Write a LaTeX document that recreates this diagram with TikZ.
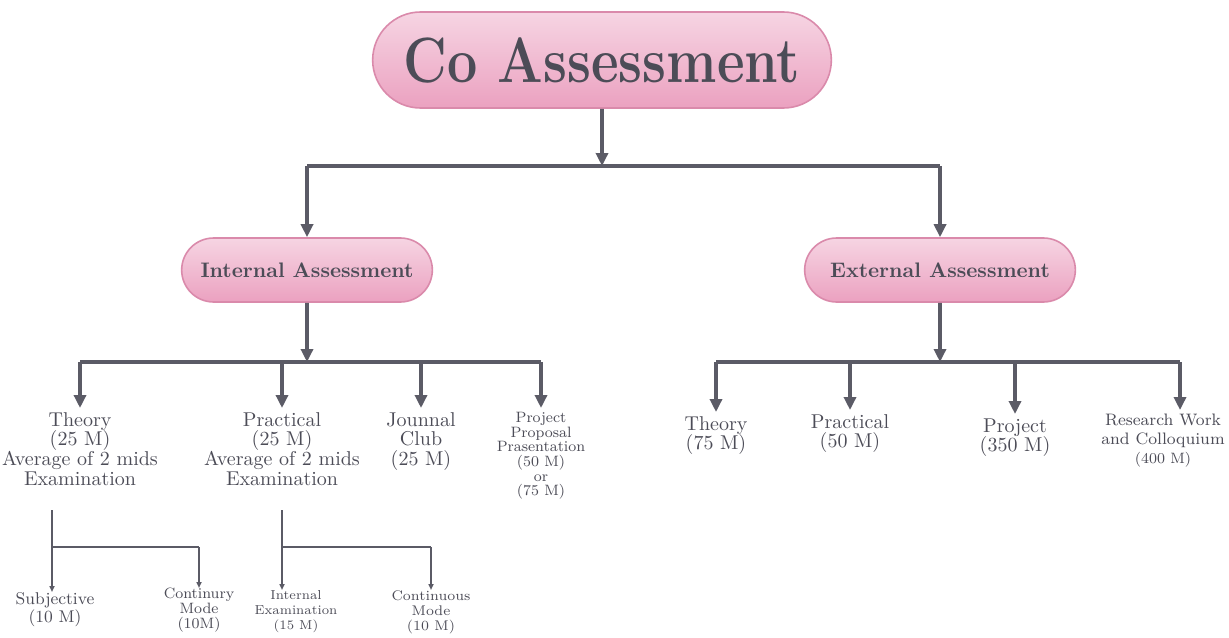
\documentclass[tikz,border=0pt]{standalone}
\usetikzlibrary{shapes.misc,arrows.meta}

\definecolor{pillpink}{HTML}{EBA1C0}
\definecolor{pilledge}{HTML}{DA8AAB}
\definecolor{inkgrey}{HTML}{4C4C57}
\definecolor{linegrey}{HTML}{5B5B66}

\begin{document}
\begin{tikzpicture}[x=0.5pt,y=-0.5pt,
	pill/.style={rounded rectangle, draw=pilledge, line width=0.8pt,
		top color=pillpink!45!white, middle color=pillpink!75!white, bottom color=pillpink,
		text=inkgrey},
	lbl/.style={align=center, text=inkgrey, inner sep=0pt},
	link/.style={draw=linegrey, line width=1.8pt},
	down/.style={link, -{Triangle[length=6.5pt,width=6pt]}},
	twig/.style={draw=linegrey, line width=1pt},
	twigdown/.style={twig, -{Triangle[length=3pt,width=2.5pt]}}]
	
	\useasboundingbox (0,0) rectangle (1229,637);
	
	\def\body{\fontsize{10}{9.8}\selectfont}
	\def\small{\fontsize{7.5}{7.3}\selectfont}
	
	% top
	\node[pill, minimum width=236pt, minimum height=48pt,
		font=\bfseries\fontsize{32}{32}\selectfont] (co) at (602,60) {\scalebox{0.84}[1]{Co Assessment}};
	\node[pill, minimum width=132pt, minimum height=32pt,
		font=\bfseries\fontsize{10.5}{11}\selectfont] (ia) at (307,270) {Internal Assessment};
	\node[pill, minimum width=142pt, minimum height=32pt,
		font=\bfseries\fontsize{10.5}{11}\selectfont] (ea) at (940,270) {External Assessment};
	
	\coordinate (j0) at (602,166);
	\draw[down] (co) -- (j0);
	\draw[link] (ia |- j0) -- (ea |- j0);
	\draw[down] (ia |- j0) -- (ia);
	\draw[down] (ea |- j0) -- (ea);
	
	% internal
	\node[lbl, anchor=north, font=\body] (it) at (80,412) {Theory\\(25 M)\\Average of 2 mids\\Examination};
	\node[lbl, anchor=north, font=\body] (ip) at (282,412) {Practical\\(25 M)\\Average of 2 mids\\Examination};
	\node[lbl, anchor=north, font=\body] (ij) at (421,412) {Jounnal\\Club\\(25 M)};
	\node[lbl, anchor=north, font=\small] (ipp) at (541,412) {Project\\Proposal\\Prasentation\\(50 M)\\or\\(75 M)};
	
	\coordinate (j1) at (307,362);
	\draw[down] (ia) -- (j1);
	\draw[link] (it |- j1) -- (ipp |- j1);
	\foreach \n in {it,ip,ij,ipp}
		\draw[down] (\n |- j1) -- ([yshift=2pt]\n.north);
	
	% external
	\node[lbl, anchor=north, font=\body] (et) at (716,416) {Theory\\(75 M)};
	\node[lbl, anchor=north, font=\body] (ep) at (850,414) {Practical\\(50 M)};
	\node[lbl, anchor=north, font=\body] (ej) at (1015,418) {Project\\(350 M)};
	\node[lbl, anchor=north, font=\fontsize{8.3}{9.5}\selectfont] (er) at (1163,414)
		{Research Work\\and Colloquium\\{\fontsize{7.5}{9}\selectfont(400 M)}};
	
	\coordinate (j2) at (940,362);
	\coordinate (e4) at (1180,414);
	\draw[down] (ea) -- (j2);
	\draw[link] (et |- j2) -- (e4 |- j2);
	\foreach \n in {et,ep,ej}
		\draw[down] (\n |- j2) -- ([yshift=2pt]\n.north);
	\draw[down] (e4 |- j2) -- ([yshift=2pt]e4);
	
	% split of theory and practical
	\node[lbl, anchor=north, font=\fontsize{8.5}{8}\selectfont] (sj) at (55,592) {Subjective\\(10 M)};
	\node[lbl, anchor=north, font=\small] (cm) at (199,588) {Continury\\Mode\\(10M)};
	\node[lbl, anchor=north, font=\fontsize{6.5}{7.5}\selectfont] (ie) at (296,590) {Internal\\Examination\\(15 M)};
	\node[lbl, anchor=north, font=\fontsize{7}{7.5}\selectfont] (cn) at (431,590) {Continuous\\Mode\\(10 M)};
	
	\coordinate (b1) at (52,510);
	\coordinate (h1) at (52,547);
	\draw[twigdown] (b1) -- (b1 |- sj.north);
	\draw[twig] (h1) -- (cm |- h1);
	\draw[twigdown] (cm |- h1) -- (cm.north);
	
	\coordinate (b2) at (282,510);
	\coordinate (h2) at (282,547);
	\draw[twigdown] (b2) -- (b2 |- ie.north);
	\draw[twig] (h2) -- (cn |- h2);
	\draw[twigdown] (cn |- h2) -- (cn.north);
	
\end{tikzpicture}
\end{document}
